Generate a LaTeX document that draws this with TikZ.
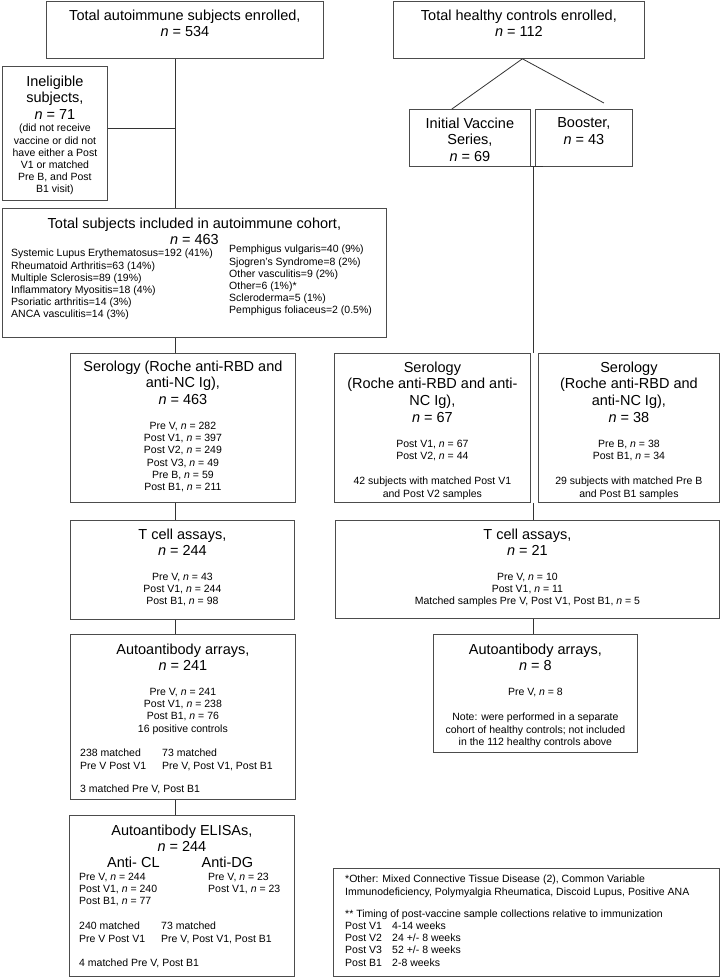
\documentclass[tikz,border=0pt]{standalone}
\usepackage{fontspec}
\setmainfont{Liberation Sans}
\usetikzlibrary{positioning,calc}

\tikzset{
  box/.style={draw=black!70, line width=0.8pt, anchor=north west, inner sep=0pt},
  head/.style={font=\fontsize{14.5}{16.7}\selectfont, align=center, inner sep=0pt},
  body/.style={font=\fontsize{10.5}{12.2}\selectfont, align=center, inner sep=0pt},
  lbody/.style={body, align=left},
  link/.style={draw=black!80, line width=0.8pt}
}
\newcommand{\nn}{\textit{n}}

\begin{document}
\begin{tikzpicture}[x=1pt,y=-1pt]
\useasboundingbox (0,0) rectangle (720,977);
% autoimmune cohort
\node[box, minimum width=277pt, minimum height=57.5pt] (aienr) at (46,0.5) {};
\node[head, below=9pt of aienr.north] {Total autoimmune subjects enrolled,\\\nn{} = 534};
\node[box, minimum width=105pt, minimum height=134pt] (inel) at (2,66) {};
\node[head, below=9.5pt of inel.north] {Ineligible\\subjects,\\\nn{} = 71};
\node[body, below=58pt of inel.north] {(did not receive\\vaccine or did not\\have either a Post\\V1 or matched\\Pre B, and Post\\B1 visit)};
\node[box, minimum width=384pt, minimum height=129pt] (cohort) at (2,208) {};
\node[head, below=9.5pt of cohort.north] {Total subjects included in autoimmune cohort,\\\nn{} = 463};
\node[lbody, below right=41pt and 9pt of cohort.north west] {Systemic Lupus Erythematosus=192 (41\%)\\Rheumatoid Arthritis=63 (14\%)\\Multiple Sclerosis=89 (19\%)\\Inflammatory Myositis=18 (4\%)\\Psoriatic arthritis=14 (3\%)\\ANCA vasculitis=14 (3\%)};
\node[lbody, below right=37pt and 227pt of cohort.north west] {Pemphigus vulgaris=40 (9\%)\\Sjogren's Syndrome=8 (2\%)\\Other vasculitis=9 (2\%)\\Other=6 (1\%)*\\Scleroderma=5 (1\%)\\Pemphigus foliaceus=2 (0.5\%)};
\node[box, minimum width=225pt, minimum height=149pt] (aiser) at (70,353) {};
\node[head, below=7.5pt of aiser.north] {Serology (Roche anti-RBD and\\anti-NC Ig),\\\nn{} = 463};
\node[body, below=69pt of aiser.north] {Pre V, \nn{} = 282\\Post V1, \nn{} = 397\\Post V2, \nn{} = 249\\Post V3, \nn{} = 49\\Pre B, \nn{} = 59\\Post B1, \nn{} = 211};
\node[box, minimum width=224pt, minimum height=99pt] (aitc) at (70,520) {};
\node[head, below=8.5pt of aitc.north] {T cell assays,\\\nn{} = 244};
\node[body, below=53pt of aitc.north] {Pre V, \nn{} = 43\\Post V1, \nn{} = 244\\Post B1, \nn{} = 98};
\node[box, minimum width=225pt, minimum height=165pt] (aiarr) at (70,634) {};
\node[head, below=9.5pt of aiarr.north] {Autoantibody arrays,\\\nn{} = 241};
\node[body, below=54pt of aiarr.north] {Pre V, \nn{} = 241\\Post V1, \nn{} = 238\\Post B1, \nn{} = 76\\16 positive controls};
\node[lbody, below right=115pt and 10pt of aiarr.north west] {238 matched\\Pre V Post V1};
\node[lbody, below right=115pt and 92pt of aiarr.north west] {73 matched\\Pre V, Post V1, Post B1};
\node[lbody, below right=151pt and 10pt of aiarr.north west] {3 matched Pre V, Post B1};
\node[box, minimum width=225pt, minimum height=161pt] (aielisa) at (69,815) {};
\node[head, below=9.5pt of aielisa.north] {Autoantibody ELISAs,\\\nn{} = 244};
\node[head, below=41.5pt of aielisa.north, xshift=-48.5pt] {Anti- CL};
\node[head, below=41.5pt of aielisa.north, xshift=45.5pt] {Anti-DG};
\node[lbody, below right=58pt and 10pt of aielisa.north west] {Pre V, \nn{} = 244\\Post V1, \nn{} = 240\\Post B1, \nn{} = 77};
\node[lbody, below right=58pt and 139pt of aielisa.north west] {Pre V, \nn{} = 23\\Post V1, \nn{} = 23};
\node[lbody, below right=107pt and 10pt of aielisa.north west] {240 matched\\Pre V Post V1};
\node[lbody, below right=107pt and 92pt of aielisa.north west] {73 matched\\Pre V, Post V1, Post B1};
\node[lbody, below right=144pt and 10pt of aielisa.north west] {4 matched Pre V, Post B1};
% healthy controls
\node[box, minimum width=251pt, minimum height=57.5pt] (hcenr) at (393,0.5) {};
\node[head, below=9pt of hcenr.north] {Total healthy controls enrolled,\\\nn{} = 112};
\node[box, minimum width=121pt, minimum height=57pt] (ivs) at (409,109) {};
\node[head, below=8.5pt of ivs.north] {Initial Vaccine\\Series,\\\nn{} = 69};
\node[box, minimum width=97pt, minimum height=57pt] (boost) at (535,109) {};
\node[head, below=8.5pt of boost.north] {Booster,\\\nn{} = 43};
\node[box, minimum width=196pt, minimum height=149pt] (hcserA) at (334,353) {};
\node[head, below=8.5pt of hcserA.north] {Serology\\(Roche anti-RBD and anti-\\NC Ig),\\\nn{} = 67};
\node[body, below=87pt of hcserA.north] {Post V1, \nn{} = 67\\Post V2, \nn{} = 44};
\node[body, below=124pt of hcserA.north] {42 subjects with matched Post V1\\and Post V2 samples};
\node[box, minimum width=181pt, minimum height=149pt] (hcserB) at (538,353) {};
\node[head, below=8.5pt of hcserB.north] {Serology\\(Roche anti-RBD and\\anti-NC Ig),\\\nn{} = 38};
\node[body, below=87pt of hcserB.north] {Pre B, \nn{} = 38\\Post B1, \nn{} = 34};
\node[body, below=124pt of hcserB.north] {29 subjects with matched Pre B\\and Post B1 samples};
\node[box, minimum width=384pt, minimum height=98pt] (hctc) at (335,520) {};
\node[head, below=8.5pt of hctc.north] {T cell assays,\\\nn{} = 21};
\node[body, below=53pt of hctc.north] {Pre V, \nn{} = 10\\Post V1, \nn{} = 11\\Matched samples Pre V, Post V1, Post B1, \nn{} = 5};
\node[box, minimum width=204pt, minimum height=118pt] (hcarr) at (433,634) {};
\node[head, below=9.5pt of hcarr.north] {Autoantibody arrays,\\\nn{} = 8};
\node[body, below=54pt of hcarr.north] {Pre V, \nn{} = 8};
\node[body, below=79pt of hcarr.north] {Note: were performed in a separate\\cohort of healthy controls; not included\\in the 112 healthy controls above};
% footnotes
\node[box, minimum width=386pt, minimum height=108pt] (notes) at (333,868) {};
\node[lbody, below right=7pt and 12pt of notes.north west] {*Other: Mixed Connective Tissue Disease (2), Common Variable\\Immunodeficiency, Polymyalgia Rheumatica, Discoid Lupus, Positive ANA\\[10pt]** Timing of post-vaccine sample collections relative to immunization\\\makebox[47pt][l]{Post V1}4-14 weeks\\\makebox[47pt][l]{Post V2}24 +/- 8 weeks\\\makebox[47pt][l]{Post V3}52 +/- 8 weeks\\\makebox[47pt][l]{Post B1}2-8 weeks};
% connectors
\coordinate (aispine) at ([xshift=-10pt]aienr.south);
\coordinate (inelout) at ([yshift=5pt]inel.east);
\draw[link] (aispine) -- (aispine |- cohort.north);
\draw[link] (inelout) -- (aispine |- inelout);
\draw[link] (aispine |- cohort.south) -- (aispine |- aiser.north);
\draw[link] (aispine |- aiser.south) -- (aispine |- aitc.north);
\draw[link] (aispine |- aitc.south) -- (aispine |- aiarr.north);
\draw[link] (aispine |- aiarr.south) -- (aispine |- aielisa.north);
\draw[link] ([xshift=3.5pt]hcenr.south) -- ([xshift=-18pt]ivs.north);
\draw[link] ([xshift=3.5pt]hcenr.south) -- ([xshift=20pt,yshift=6pt]boost.north);
\coordinate (hcsplit) at ($(ivs.south east)!0.5!(boost.south west)$);
\draw[link] (ivs.south east) -- ([xshift=8pt]boost.south west);
\draw[link] (hcsplit) -- (hcsplit |- hcserA.north);
\draw[link] (hcsplit |- hcserA.south) -- (hcsplit |- hctc.north);
\draw[link] (hcsplit |- hctc.south) -- (hcsplit |- hcarr.north);
\end{tikzpicture}
\end{document}
